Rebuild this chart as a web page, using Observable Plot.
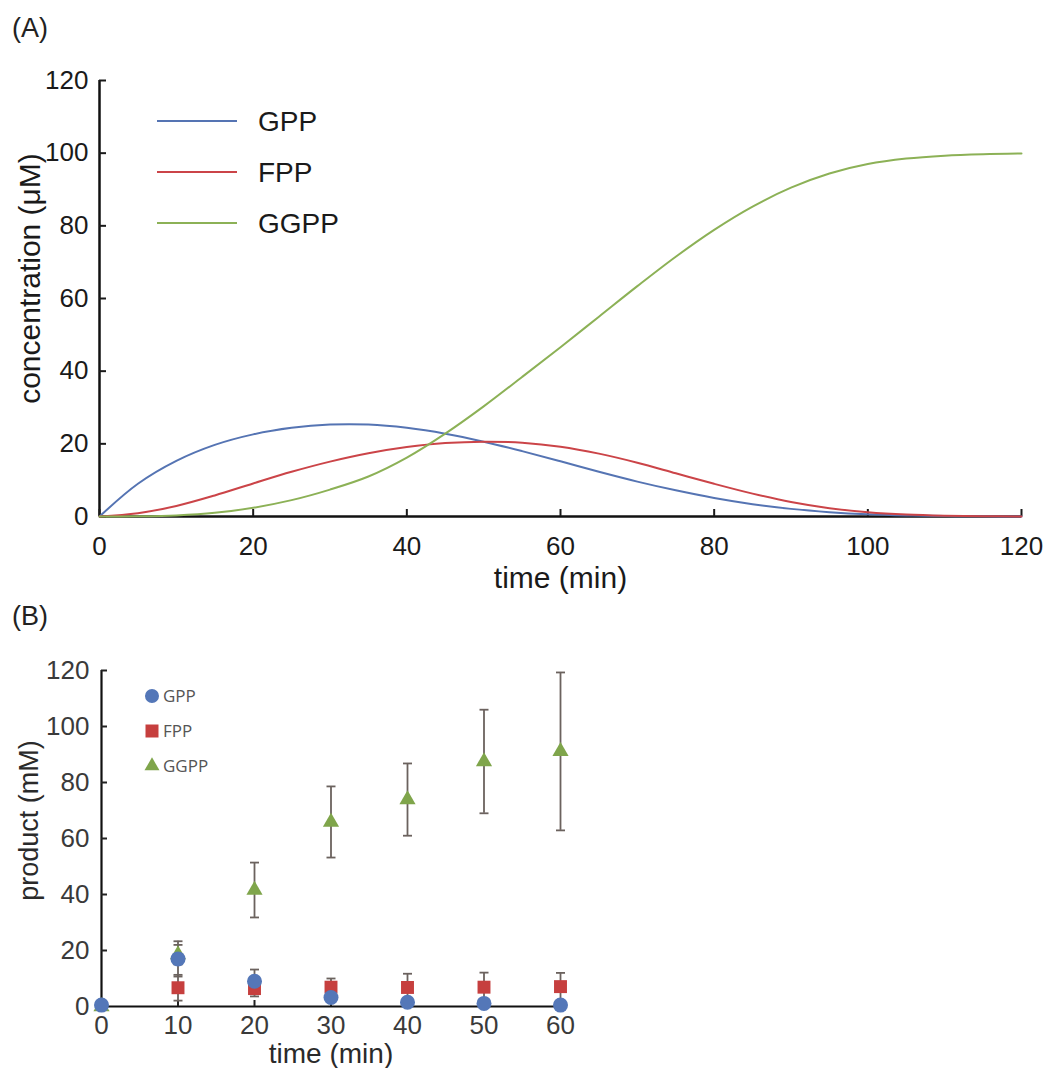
<!DOCTYPE html>
<html>
<head>
<meta charset="utf-8">
<script src="https://cdn.jsdelivr.net/npm/d3@7"></script>
<script src="https://cdn.jsdelivr.net/npm/@observablehq/plot@0.6"></script>
<style>
  html, body { margin: 0; padding: 0; background: #fff; }
  #page { position: relative; width: 1057px; height: 1068px; overflow: hidden;
          font-family: "Liberation Sans", Arial, Helvetica, sans-serif; }
  #panelA { position: absolute; left: 0; top: 50px; }
  #panelB { position: absolute; left: 0; top: 640px; }
  #overlay { position: absolute; left: 0; top: 0; pointer-events: none; }
</style>
</head>
<body>
<div id="page">
  <div id="panelA"></div>
  <div id="panelB"></div>
  <svg id="overlay" width="1057" height="1068"></svg>
</div>
<script>
// ---- Panel A: simulated concentrations (µM) over time (min) ----
const simTime = [0, 5, 10, 15, 20, 25, 30, 35, 40, 45, 50, 55, 60, 65, 70, 75, 80, 85, 90, 95, 100, 105, 110, 115, 120];
const simGPP  = [0, 9.0, 15.3, 19.7, 22.6, 24.4, 25.3, 25.3, 24.4, 22.8, 20.6, 18.0, 15.2, 12.3, 9.6, 7.2, 5.1, 3.4, 2.1, 1.2, 0.6, 0.28, 0.12, 0.04, 0];
const simFPP  = [0, 0.9, 2.9, 5.8, 9.1, 12.3, 15.1, 17.4, 19.1, 20.2, 20.6, 20.3, 19.2, 17.3, 14.8, 11.9, 9.0, 6.3, 4.0, 2.3, 1.2, 0.55, 0.22, 0.07, 0];
const simGGPP = [0, 0.05, 0.3, 1.0, 2.4, 4.5, 7.4, 11.0, 16.2, 22.8, 30.3, 38.4, 46.6, 55.0, 63.4, 71.5, 78.9, 85.3, 90.5, 94.4, 97.0, 98.5, 99.3, 99.7, 99.9];
const ticksA = [0, 20, 40, 60, 80, 100, 120];

// ---- Panel B: measured products (mean ± SD) ----
const assayTime = [0, 10, 20, 30, 40, 50, 60];
const assayGPP    = [0.5, 17.0, 9.0, 3.2, 1.5, 1.1, 0.5];
const assayGPPsd  = [0, 6.3, 4.2, 0.8, 0.5, 0.4, 0.3];
const assayFPP    = [null, 6.7, 6.4, 6.9, 6.8, 6.9, 7.1];
const assayFPPsd  = [0, 4.6, 2.8, 3.1, 4.9, 5.2, 4.9];
const assayGGPP   = [0, 18.5, 41.6, 65.9, 73.9, 87.5, 91.1];
const assayGGPPsd = [0, 3.5, 9.8, 12.7, 12.9, 18.5, 28.2];
const ticksBx = [0, 10, 20, 30, 40, 50, 60];
const ticksBy = [0, 20, 40, 60, 80, 100, 120];

const seriesNames = ["GPP", "FPP", "GGPP"];
const lineColors = ["#5574b3", "#cb4448", "#8cb156"];
const markerColors = ["#5477b8", "#c63f3e", "#7fa54b"];
const markerSymbols = ["circle", "square", "triangle"];
const barColor = "#6b625e";

const fontFamily = '"Liberation Sans", Arial, Helvetica, sans-serif';

// long tables for the marks
const simSeries = [simGPP, simFPP, simGGPP];
const simRows = seriesNames.flatMap((name, k) =>
  simTime.map((t, i) => ({series: name, time: t, conc: simSeries[k][i]})));

const assayMeans = [assayGPP, assayFPP, assayGGPP];
const assaySds = [assayGPPsd, assayFPPsd, assayGGPPsd];
const assayRows = seriesNames.flatMap((name, k) =>
  assayTime.map((t, i) => ({series: name, time: t, value: assayMeans[k][i], sd: assaySds[k][i]})))
  .filter(d => d.value != null);
const withSd = assayRows.filter(d => d.sd > 0);

// horizontal cap for error bars
const capSymbol = {
  draw(context, size) {
    const w = Math.sqrt(size / Math.PI);
    context.moveTo(-w, 0);
    context.lineTo(w, 0);
  }
};

const chartA = Plot.plot({
  width: 1057, height: 550,
  marginTop: 30, marginBottom: 84, marginLeft: 99, marginRight: 36,
  style: {fontFamily, color: "#1a1a1a", background: "transparent", overflow: "visible"},
  x: {domain: [0, 120]},
  y: {domain: [0, 120]},
  color: {domain: seriesNames, range: lineColors},
  marks: [
    Plot.ruleY([0], {stroke: "#111", strokeWidth: 2.5}),
    Plot.ruleX([0], {stroke: "#111", strokeWidth: 2.5}),
    Plot.axisX({ticks: ticksA, tickSize: -7, tickPadding: 27, fontSize: 26, strokeWidth: 2, label: null}),
    Plot.axisY({ticks: ticksA, tickSize: -7, tickPadding: 18, fontSize: 26, strokeWidth: 2, label: null}),
    Plot.line(simRows, {x: "time", y: "conc", z: "series", stroke: "series", strokeWidth: 2, curve: "catmull-rom"}),
    Plot.text(["time (min)"], {frameAnchor: "bottom", textAnchor: "middle", lineAnchor: "middle", dy: 62, fontSize: 30}),
    Plot.text(["concentration (μM)"], {frameAnchor: "left", textAnchor: "middle", lineAnchor: "middle", rotate: -90, dx: -69, dy: -20, fontSize: 30})
  ]
});
document.getElementById("panelA").append(chartA);

const chartB = Plot.plot({
  width: 1057, height: 428,
  marginTop: 30, marginBottom: 62, marginLeft: 101, marginRight: 497,
  style: {fontFamily, color: "#333", background: "transparent", overflow: "visible"},
  x: {domain: [0, 60]},
  y: {domain: [0, 120]},
  marks: [
    Plot.ruleY([0], {stroke: "#111", strokeWidth: 2.2}),
    Plot.ruleX([0], {stroke: "#111", strokeWidth: 2.2}),
    Plot.axisX({ticks: ticksBx, tickSize: -6, tickPadding: 15, fontSize: 26, stroke: "#222", strokeWidth: 2, fill: "#3a3a3a", label: null}),
    Plot.axisY({ticks: ticksBy, tickSize: -6, tickPadding: 18, fontSize: 26, stroke: "#222", strokeWidth: 2, fill: "#3a3a3a", label: null}),
    Plot.ruleX(withSd, {x: "time", y1: d => d.value - d.sd, y2: d => d.value + d.sd, stroke: barColor, strokeWidth: 1.8}),
    Plot.dot(withSd, {x: "time", y: d => d.value + d.sd, symbol: capSymbol, r: 4.5, stroke: barColor, strokeWidth: 1.8, fill: "none"}),
    Plot.dot(withSd, {x: "time", y: d => d.value - d.sd, symbol: capSymbol, r: 4.5, stroke: barColor, strokeWidth: 1.8, fill: "none"}),
    ...[2, 1, 0].map(k => Plot.dot(assayRows.filter(d => d.series === seriesNames[k]), {
      x: "time", y: "value", symbol: markerSymbols[k],
      r: [7.5, 7.3, 6][k], fill: markerColors[k], stroke: "none"
    })),
    Plot.text(["time (min)"], {frameAnchor: "bottom", textAnchor: "middle", lineAnchor: "middle", dy: 48, fontSize: 28, fill: "#2a2a2a"}),
    Plot.text(["product (mM)"], {frameAnchor: "left", textAnchor: "middle", lineAnchor: "middle", rotate: -90, dx: -72, dy: -18, fontSize: 27, fill: "#2a2a2a"})
  ]
});
document.getElementById("panelB").append(chartB);

// ---- panel labels and legends ----
const overlay = d3.select("#overlay");
overlay.selectAll("text.panel")
  .data([{label: "(A)", y: 37}, {label: "(B)", y: 625}])
  .join("text")
  .attr("class", "panel")
  .attr("x", 12).attr("y", d => d.y)
  .attr("font-family", fontFamily).attr("font-size", 27).attr("fill", "#222")
  .text(d => d.label);

// legend for the simulated curves
const legA = overlay.append("g");
seriesNames.forEach((name, k) => {
  const y = 121 + k * 51;
  legA.append("line").attr("x1", 157).attr("x2", 237).attr("y1", y).attr("y2", y)
    .attr("stroke", lineColors[k]).attr("stroke-width", 2);
  legA.append("text").attr("x", 258).attr("y", y + 10)
    .attr("font-family", fontFamily).attr("font-size", 28).attr("fill", "#1a1a1a").text(name);
});

// legend for the measured products
const legB = overlay.append("g");
const legendSymbols = [d3.symbolCircle, d3.symbolSquare, d3.symbolTriangle];
const legendSizes = [154, 169, 97];
seriesNames.forEach((name, k) => {
  const y = 696 + k * 35;
  legB.append("path")
    .attr("transform", `translate(152,${y})`)
    .attr("d", d3.symbol(legendSymbols[k], legendSizes[k])())
    .attr("fill", markerColors[k]);
  legB.append("text").attr("x", 163).attr("y", y + 6)
    .attr("font-family", '"Open Sans", "Noto Sans", sans-serif').attr("font-size", 17).attr("fill", "#555")
    .text(name);
});
</script>
</body>
</html>
